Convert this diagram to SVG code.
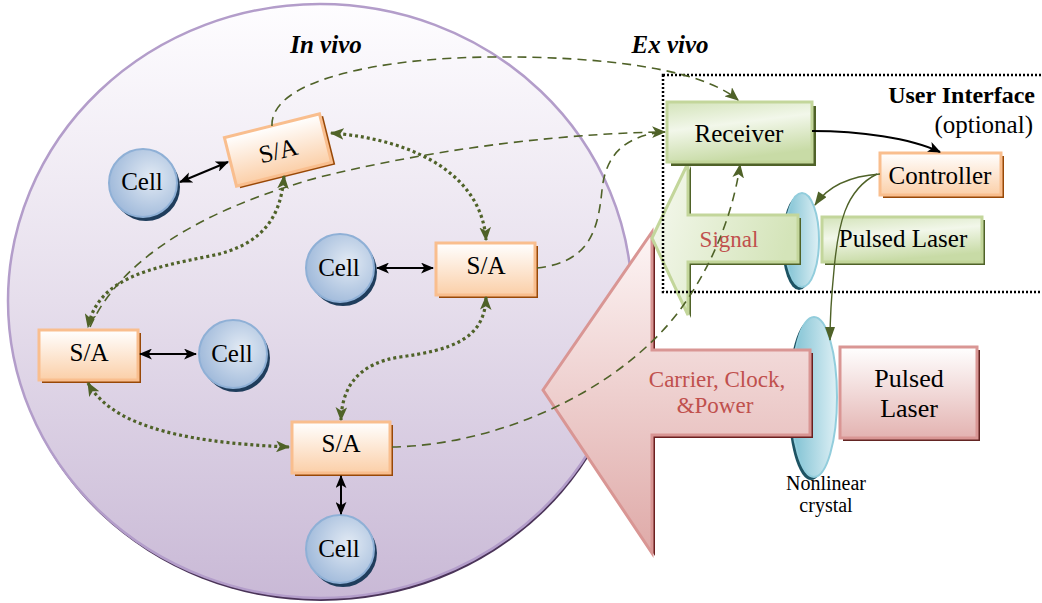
<svg xmlns="http://www.w3.org/2000/svg" width="1042" height="603" viewBox="0 0 1042 603">
  <defs>
    <linearGradient id="gBody" x1="0" y1="0" x2="0" y2="1">
      <stop offset="0" stop-color="#fefdff"/>
      <stop offset="0.5" stop-color="#e6deec"/>
      <stop offset="1" stop-color="#c9b9d6"/>
    </linearGradient>
    <linearGradient id="gOrange" x1="0" y1="0" x2="0" y2="1">
      <stop offset="0" stop-color="#ffffff"/>
      <stop offset="1" stop-color="#fbcfa8"/>
    </linearGradient>
    <radialGradient id="gCell" cx="0.62" cy="0.42" r="0.65">
      <stop offset="0" stop-color="#e2eaf4"/>
      <stop offset="1" stop-color="#9fb9da"/>
    </radialGradient>
    <linearGradient id="gGreen" x1="0" y1="0" x2="0.3" y2="1">
      <stop offset="0" stop-color="#d3e3b9"/>
      <stop offset="0.45" stop-color="#f2f7ea"/>
      <stop offset="1" stop-color="#c8dba6"/>
    </linearGradient>
    <linearGradient id="gRed" x1="0" y1="0" x2="0" y2="1">
      <stop offset="0" stop-color="#ffffff"/>
      <stop offset="1" stop-color="#e3b3b1"/>
    </linearGradient>
    <linearGradient id="gLens" x1="0" y1="0" x2="1" y2="0">
      <stop offset="0" stop-color="#7cc0d2"/>
      <stop offset="1" stop-color="#def0f5"/>
    </linearGradient>
    <linearGradient id="gBigRed" x1="0" y1="0" x2="0" y2="1">
      <stop offset="0" stop-color="#fdf5f5"/>
      <stop offset="1" stop-color="#dfaaa8"/>
    </linearGradient>
    <linearGradient id="gBigGreen" x1="0" y1="0" x2="1" y2="0.3">
      <stop offset="0" stop-color="#f6f9f0"/>
      <stop offset="1" stop-color="#d4e4b9"/>
    </linearGradient>
    <marker id="mOlive" viewBox="0 0 12 10" refX="11" refY="5" markerWidth="14" markerHeight="12" markerUnits="userSpaceOnUse" orient="auto-start-reverse">
      <path d="M0,0 L12,5 L0,10 L3,5 z" fill="#4f6228"/>
    </marker>
    <marker id="mBlack" viewBox="0 0 12 10" refX="11" refY="5" markerWidth="13" markerHeight="11" markerUnits="userSpaceOnUse" orient="auto-start-reverse">
      <path d="M0,0 L12,5 L0,10 L3,5 z" fill="#000"/>
    </marker>
    <marker id="mOliveThin" viewBox="0 0 14 10" refX="13" refY="5" markerWidth="15" markerHeight="10" markerUnits="userSpaceOnUse" orient="auto">
      <path d="M0,0 L14,5 L0,10 z" fill="#4f6228"/>
    </marker>
    <style>
      .t { fill: #000; text-anchor: middle; }
      .lbl { fill: #c0504d; text-anchor: middle; }
      .sa { fill: url(#gOrange); stroke: #f9be8e; stroke-width: 3; }
      .saSh { fill: #984807; }
      .cell { fill: url(#gCell); stroke: #8fb0d6; stroke-width: 2; }
      .cellSh { fill: #1f3d5c; }
      .grn { fill: url(#gGreen); stroke: #c3d69b; stroke-width: 3; }
      .grnSh { fill: #4f6228; }
      .red { fill: url(#gRed); stroke: #d99694; stroke-width: 3; }
      .redSh { fill: #632523; }
      .lens { fill: url(#gLens); stroke: #92cddc; stroke-width: 2; }
      .lensSh { fill: #1d5363; }
      .dash { fill: none; stroke: #4f6228; stroke-width: 1.6; stroke-dasharray: 9 6; }
      .dot { fill: none; stroke: #4f6228; stroke-width: 3.2; stroke-dasharray: 3 3; }
      .blk { fill: none; stroke: #000; stroke-width: 2; }
      .thin { fill: none; stroke: #4f6228; stroke-width: 1.4; }
    </style>
  </defs>

  <rect width="1042" height="603" fill="#ffffff"/>

  <!-- all labels share one serif face -->
  <g font-family="Liberation Serif, Times New Roman, serif">

  <!-- body (in vivo region) -->
  <g id="body">
    <ellipse cx="321" cy="304" rx="312" ry="297" fill="#4a3358"/>
    <ellipse cx="320" cy="301" rx="312" ry="297" fill="url(#gBody)" stroke="#b39dca" stroke-width="2.5"/>
  </g>

  <!-- nonlinear crystal lens -->
  <g id="crystal">
    <ellipse cx="811" cy="400" rx="23" ry="80" class="lensSh"/>
    <ellipse cx="814" cy="397" rx="23" ry="80" class="lens"/>
    <text class="t" x="826" y="490" font-size="20">Nonlinear</text>
    <text class="t" x="826" y="512" font-size="20">crystal</text>
  </g>

  <!-- carrier / clock / power arrow -->
  <g id="carrier-arrow">
    <polygon points="546,393 655,235 655,353 813,353 813,438 655,438 655,556" fill="#6b1f1f"/>
    <polygon points="543,390 652,232 652,350 810,350 810,435 652,435 652,553" fill="url(#gBigRed)" stroke="#d99694" stroke-width="3"/>
    <text class="lbl" x="717" y="387" font-size="23">Carrier, Clock,</text>
    <text class="lbl" x="715" y="413" font-size="23">&amp;Power</text>
  </g>

  <!-- upper lens -->
  <g id="lens-ui">
    <ellipse cx="799" cy="243" rx="17" ry="47" class="lensSh"/>
    <ellipse cx="802" cy="240" rx="17" ry="47" class="lens"/>
  </g>

  <!-- signal arrow -->
  <g id="signal-arrow">
    <polygon points="655,241 691,166 691,218 801,218 801,265 691,265 691,318" fill="#4f6228"/>
    <polygon points="652,238 688,163 688,215 798,215 798,262 688,262 688,315" fill="url(#gBigGreen)" stroke="#c3d69b" stroke-width="3"/>
    <text class="lbl" x="729" y="247" font-size="23">Signal</text>
  </g>

  <!-- user interface frame -->
  <g id="user-interface">
    <rect x="663" y="75" width="400" height="217" fill="none" stroke="#000" stroke-width="2.5" stroke-dasharray="2 2"/>
    <text x="1035" y="103" font-size="24" font-weight="bold" text-anchor="end">User Interface</text>
    <text x="1033" y="133" font-size="25" text-anchor="end">(optional)</text>
  </g>

  <g id="titles">
    <text x="326" y="53" font-size="25" font-weight="bold" font-style="italic" text-anchor="middle">In vivo</text>
    <text x="670" y="53" font-size="25" font-weight="bold" font-style="italic" text-anchor="middle">Ex vivo</text>
  </g>

  <!-- receiver -->
  <g id="receiver">
    <rect x="671" y="106" width="145" height="60" class="grnSh"/>
    <rect x="667" y="102" width="145" height="60" class="grn"/>
    <text class="t" x="739" y="142" font-size="25">Receiver</text>
  </g>

  <!-- controller -->
  <g id="controller">
    <rect x="883" y="156" width="121" height="42" class="saSh"/>
    <rect x="880" y="153" width="121" height="42" class="sa"/>
    <text class="t" x="940" y="184" font-size="25">Controller</text>
  </g>

  <!-- pulsed laser (user interface) -->
  <g id="laser-ui">
    <rect x="825" y="220" width="160" height="45" class="grnSh"/>
    <rect x="822" y="217" width="160" height="45" class="grn"/>
    <text class="t" x="903" y="247" font-size="25">Pulsed Laser</text>
  </g>

  <!-- pulsed laser (carrier) -->
  <g id="laser-main">
    <rect x="843" y="350" width="137" height="91" class="redSh"/>
    <rect x="840" y="347" width="137" height="91" class="red"/>
    <text class="t" x="909" y="387" font-size="26">Pulsed</text>
    <text class="t" x="909" y="417" font-size="26">Laser</text>
  </g>

  <!-- sensor / actuator nodes -->
  <g id="sa1" transform="rotate(-14 278 150)">
    <rect x="232" y="128" width="98" height="50" class="saSh"/>
    <rect x="229" y="125" width="98" height="50" class="sa"/>
    <text class="t" x="278" y="159" font-size="25">S/A</text>
  </g>
  <g id="sa2">
    <rect x="439" y="246" width="99" height="52" class="saSh"/>
    <rect x="436" y="243" width="99" height="52" class="sa"/>
    <text class="t" x="486" y="274" font-size="25">S/A</text>
  </g>
  <g id="sa3">
    <rect x="42" y="333" width="99" height="50" class="saSh"/>
    <rect x="39" y="330" width="99" height="50" class="sa"/>
    <text class="t" x="89" y="361" font-size="25">S/A</text>
  </g>
  <g id="sa4">
    <rect x="295" y="425" width="98" height="51" class="saSh"/>
    <rect x="292" y="422" width="98" height="51" class="sa"/>
    <text class="t" x="341" y="452" font-size="25">S/A</text>
  </g>

  <!-- cells -->
  <g id="cell1">
    <circle cx="146" cy="187" r="34" class="cellSh"/>
    <circle cx="143" cy="183" r="34" class="cell"/>
    <text class="t" x="142" y="190" font-size="25">Cell</text>
  </g>
  <g id="cell2">
    <circle cx="343" cy="272" r="34" class="cellSh"/>
    <circle cx="340" cy="268" r="34" class="cell"/>
    <text class="t" x="339" y="276" font-size="25">Cell</text>
  </g>
  <g id="cell3">
    <circle cx="236" cy="358" r="34" class="cellSh"/>
    <circle cx="233" cy="354" r="34" class="cell"/>
    <text class="t" x="232" y="362" font-size="25">Cell</text>
  </g>
  <g id="cell4">
    <circle cx="343" cy="553" r="34" class="cellSh"/>
    <circle cx="340" cy="549" r="34" class="cell"/>
    <text class="t" x="339" y="557" font-size="25">Cell</text>
  </g>

  </g>

  <!-- connectors -->
  <g id="connectors">
    <!-- cell to S/A links -->
    <path class="blk" d="M180,182 L228,162" marker-start="url(#mBlack)" marker-end="url(#mBlack)"/>
    <path class="blk" d="M377,268 L433,268" marker-start="url(#mBlack)" marker-end="url(#mBlack)"/>
    <path class="blk" d="M140,354 L196,354" marker-start="url(#mBlack)" marker-end="url(#mBlack)"/>
    <path class="blk" d="M341,476 L341,514" marker-start="url(#mBlack)" marker-end="url(#mBlack)"/>

    <!-- S/A to S/A links -->
    <path class="dot" d="M331,133 C420,140 482,178 486,240" marker-start="url(#mOlive)" marker-end="url(#mOlive)"/>
    <path class="dot" d="M284,176 C281,215 265,245 210,256 C150,268 98,278 88,327" marker-start="url(#mOlive)" marker-end="url(#mOlive)"/>
    <path class="dot" d="M88,383 C110,422 170,442 289,447" marker-start="url(#mOlive)" marker-end="url(#mOlive)"/>
    <path class="dot" d="M486,297 C485,340 450,350 400,357 C360,363 342,385 341,420" marker-start="url(#mOlive)" marker-end="url(#mOlive)"/>

    <!-- uplinks to receiver -->
    <path class="dash" d="M272,126 C270,80 380,58 490,57 C600,56 700,68 738,100" marker-end="url(#mOlive)"/>
    <path class="dash" d="M90,327 C120,260 200,210 320,177 C450,145 580,133 665,132" marker-end="url(#mOlive)"/>
    <path class="dash" d="M537,268 C590,262 598,230 602,190 C606,150 630,136 662,132"/>
    <path class="dash" d="M392,447 C500,445 620,390 680,310 C720,255 735,200 740,165" marker-end="url(#mOlive)"/>

    <!-- receiver to controller -->
    <path class="blk" d="M812,131 C860,131 910,138 940,152" marker-end="url(#mBlack)"/>

    <!-- controller to lenses -->
    <path class="thin" d="M880,174 C850,176 828,186 815,205" marker-end="url(#mOliveThin)"/>
    <path class="thin" d="M877,174 C845,190 838,225 834,270 C831,300 830,320 830,340" marker-end="url(#mOliveThin)"/>
  </g>
</svg>
